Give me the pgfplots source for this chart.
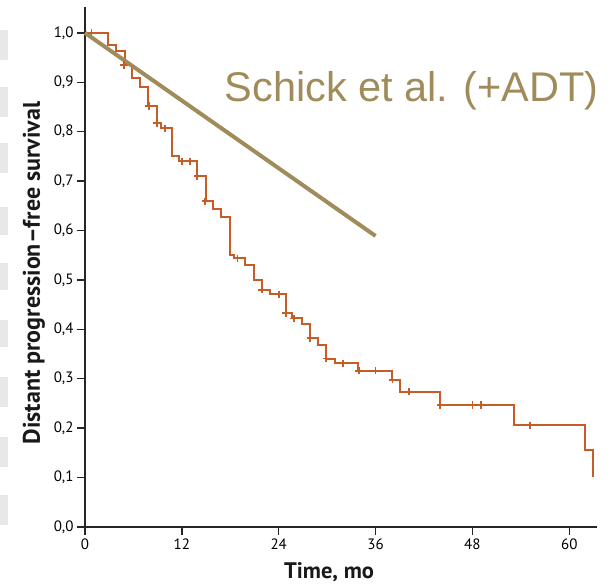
\documentclass[border=0pt]{standalone}
\usepackage{pgfplots}
\usepackage{pgfplotstable}
\pgfplotsset{compat=1.18}
\usepackage{fontspec}
\setmainfont{PT Sans}
\newfontfamily\arialfont{Liberation Sans}
\definecolor{kmorange}{RGB}{198,92,38}
\definecolor{khaki}{RGB}{160,140,90}
\definecolor{slidegray}{RGB}{232,232,232}

\pgfplotstableread{
t s
0 1.000
2.9 0.976
3.9 0.964
4.9 0.935
5.8 0.908
6.8 0.890
7.85 0.852
8.9 0.817
9.4 0.807
10.8 0.751
11.7 0.740
13.9 0.710
14.95 0.659
15.9 0.643
16.85 0.628
18.0 0.551
18.5 0.544
19.8 0.531
21.0 0.500
21.9 0.480
22.9 0.471
24.95 0.433
25.6 0.422
26.9 0.411
27.9 0.382
28.9 0.369
29.9 0.341
31.0 0.331
33.8 0.316
38.0 0.298
39.0 0.274
44.0 0.247
53.1 0.206
62.0 0.156
63.0 0.102
}\kmdata

\pgfplotstableread{
t s
0.8 1.000
4.8 0.935
7.9 0.852
8.9 0.817
9.9 0.807
12.0 0.740
13.0 0.740
13.9 0.710
14.9 0.659
18.9 0.544
21.9 0.480
24.0 0.471
24.9 0.433
25.9 0.422
27.9 0.382
29.9 0.341
32.0 0.331
33.9 0.316
36.0 0.316
38.1 0.298
40.1 0.274
44.0 0.247
48.0 0.247
49.1 0.247
55.1 0.206
}\censdata

\begin{document}
\begin{tikzpicture}
\path[use as bounding box] (-85bp,-57bp) rectangle (528bp,527bp);
\foreach \a/\b in {497/467, 440/410, 384/354, 320/292, 264/237, 207/180, 150/120, 90/60, 32/2} {
  \fill[slidegray] (-85bp,\a bp) rectangle (-77bp,\b bp);
}
\begin{axis}[
  at={(0,0)}, anchor=south west,
  scale only axis,
  width=511.7bp, height=520.3bp,
  xmin=0, xmax=63.4, ymin=0, ymax=1.053,
  axis lines=left,
  axis line style={-, line width=1.4bp, black!85},
  tick style={line width=1.4bp, black!85},
  tick align=outside,
  major tick length=8bp,
  xtick={0,12,24,36,48,60},
  ytick={0,0.1,0.2,0.3,0.4,0.5,0.6,0.7,0.8,0.9,1.0},
  /pgf/number format/assume math mode=true,
  yticklabel style={font=\fontsize{15bp}{17bp}\selectfont, text=black, /pgf/number format/.cd, fixed, fixed zerofill, precision=1, use comma},
  xticklabel style={font=\fontsize{15bp}{17bp}\selectfont, text=black},
  xlabel={Time, mo},
  ylabel={Distant progression--free survival},
  xlabel style={font=\fontsize{22.5bp}{26bp}\selectfont\bfseries, text=black!90, at={([yshift=-51.5bp]rel axis cs:0.477,0)}, anchor=base},
  ylabel style={font=\fontsize{24bp}{28bp}\selectfont\bfseries, text=black!90, at={([xshift=-51bp]rel axis cs:0,0.488)}, rotate=0, anchor=center},
  clip=false,
]
\addplot[const plot, kmorange, line width=2bp, no marks] table[x=t,y=s]{\kmdata};
\addplot[only marks, mark=+, mark size=3.6bp, kmorange, mark options={line width=1.8bp}] table[x=t,y=s]{\censdata};
\addplot[khaki, line width=4bp, no marks] coordinates {(0,1.0) (36,0.589)};
\node[anchor=base west, inner sep=0pt, text=khaki, font=\arialfont\fontsize{41.5bp}{48bp}\selectfont] at (axis cs:17.3,0.861) {Schick et al. (+ADT)};
\end{axis}
\end{tikzpicture}
\end{document}
